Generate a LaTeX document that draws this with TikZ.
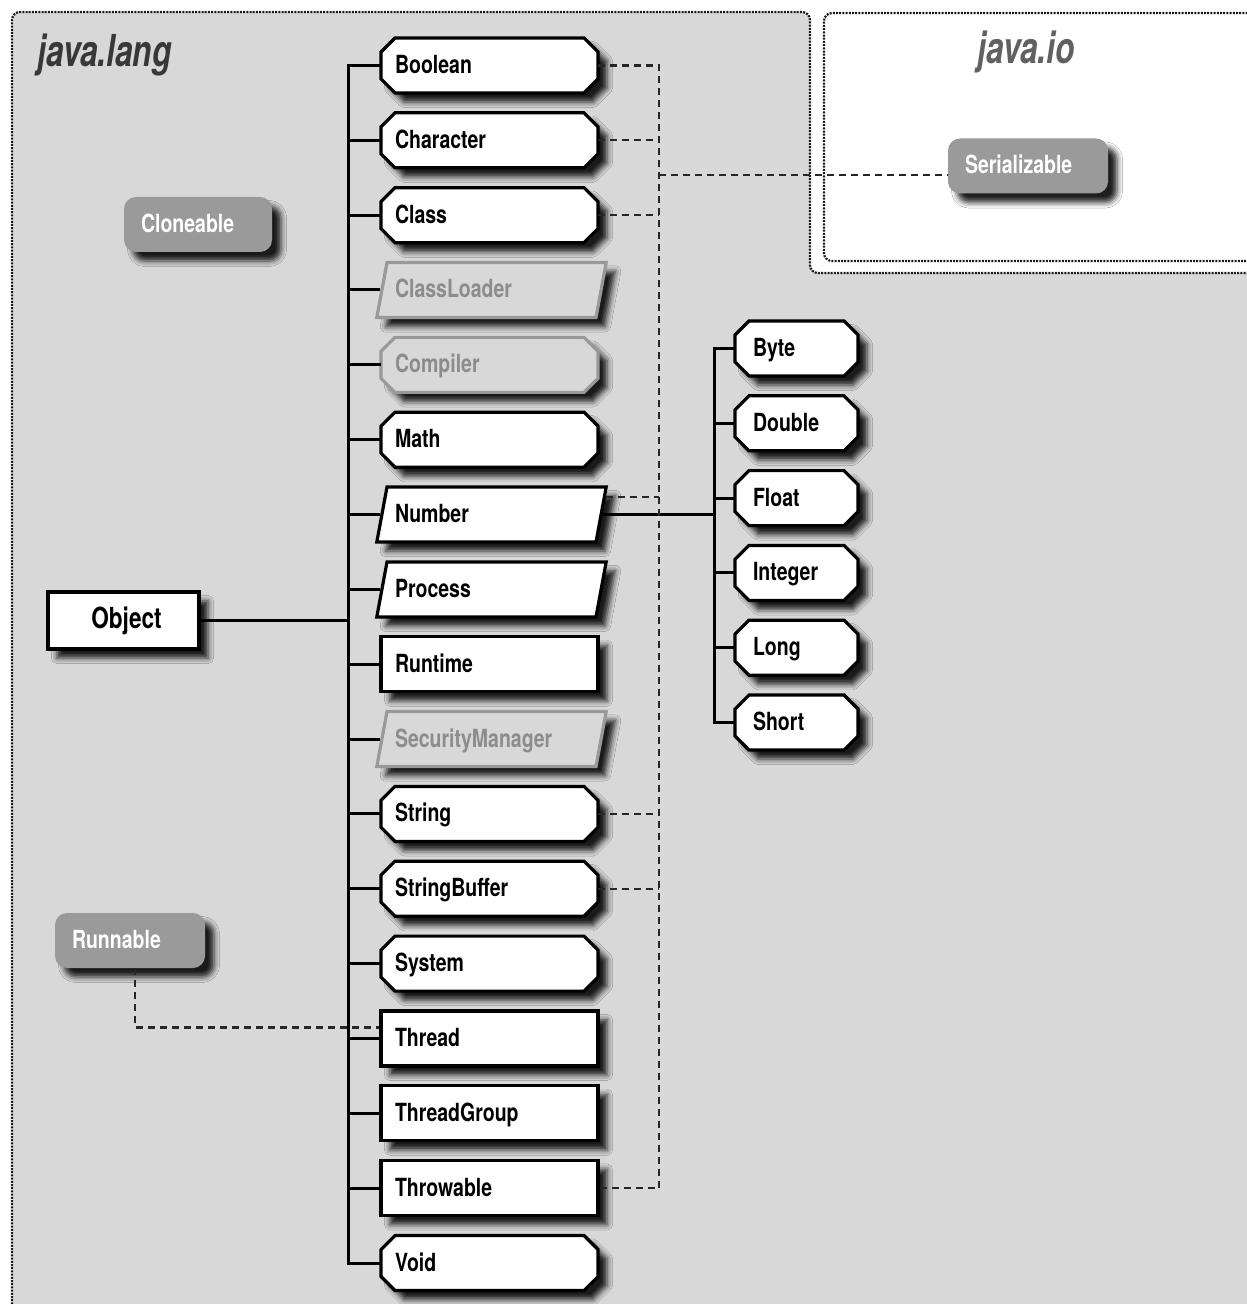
\documentclass[tikz,border=0pt]{standalone}
\usepackage{fontspec}
\setmainfont{TeX Gyre Heros}[FakeStretch=0.78]
\newfontfamily\titlefont{TeX Gyre Heros}[FakeStretch=0.72]
\usetikzlibrary{shapes.geometric,shadows.blur,calc}
\definecolor{bgcol}{HTML}{D8D8D8}
\definecolor{ifcol}{HTML}{9A9A9A}
\makeatletter
\pgfdeclareshape{octagonbox}{%
  \inheritsavedanchors[from=rectangle]%
  \inheritanchorborder[from=rectangle]%
  \inheritanchor[from=rectangle]{center}%
  \inheritanchor[from=rectangle]{north}%
  \inheritanchor[from=rectangle]{south}%
  \inheritanchor[from=rectangle]{east}%
  \inheritanchor[from=rectangle]{west}%
  \inheritanchor[from=rectangle]{north east}%
  \inheritanchor[from=rectangle]{north west}%
  \inheritanchor[from=rectangle]{south east}%
  \inheritanchor[from=rectangle]{south west}%
  \inheritanchor[from=rectangle]{base}%
  \inheritanchor[from=rectangle]{mid}%
  \inheritanchor[from=rectangle]{text}%
  \backgroundpath{%
    \pgf@process{\southwest}\edef\oxa{\the\pgf@x}\edef\oya{\the\pgf@y}%
    \pgf@process{\northeast}\edef\oxb{\the\pgf@x}\edef\oyb{\the\pgf@y}%
    \def\oc{7pt}%
    \pgfpathmoveto{\pgfpoint{\oxa}{\oya+\oc}}%
    \pgfpathlineto{\pgfpoint{\oxa}{\oyb-\oc}}%
    \pgfpathlineto{\pgfpoint{\oxa+\oc}{\oyb}}%
    \pgfpathlineto{\pgfpoint{\oxb-\oc}{\oyb}}%
    \pgfpathlineto{\pgfpoint{\oxb}{\oyb-\oc}}%
    \pgfpathlineto{\pgfpoint{\oxb}{\oya+\oc}}%
    \pgfpathlineto{\pgfpoint{\oxb-\oc}{\oya}}%
    \pgfpathlineto{\pgfpoint{\oxa+\oc}{\oya}}%
    \pgfpathclose
  }%
}
\makeatother
\tikzset{
  shd/.style={blur shadow={shadow xshift=4.5pt, shadow yshift=-4.5pt, shadow blur radius=2.8pt, shadow opacity=88}},
  boxtext/.style={font=\fontsize{12.5pt}{14pt}\selectfont\bfseries, text height=10.5pt, text depth=2.5pt, inner ysep=7.25pt, align=left},
  octbox/.style={boxtext, shape=octagonbox, outer sep=0pt,
     draw=black, line width=1.6pt, fill=white, shd, inner xsep=7pt, text width=94.5pt},
  smallbox/.style={octbox, inner xsep=9pt, text width=43.5pt},
  parbox/.style={boxtext, trapezium, trapezium left angle=79.5, trapezium right angle=100.5,
     draw=black, line width=1.6pt, fill=white, shd, inner xsep=4pt, text width=96.5pt},
  rectbox/.style={boxtext, rectangle, draw=black, line width=1.6pt, fill=white, shd, inner xsep=7pt, text width=94.5pt},
  faded/.style={draw=black!40, fill=bgcol, text=black!45},
  ifbox/.style={boxtext, rectangle, rounded corners=6pt, fill=ifcol, draw=none, text=white, shd, inner xsep=8.5pt},
  objbox/.style={rectangle, draw=black, line width=1.6pt, fill=white, shd, minimum width=75.5pt, minimum height=28.5pt,
     font=\fontsize{14.5pt}{16pt}\selectfont\bfseries},
  conn/.style={draw=black, line width=1.5pt},
  dconn/.style={draw=black!85, line width=1.2pt, dash pattern=on 3.5pt off 2.5pt},
  regb/.style={draw=black!90, line width=1.1pt, dash pattern=on 1pt off 0.6pt, rounded corners=4pt},
  ttl/.style={anchor=base west, inner sep=0pt, font=\titlefont\fontsize{22pt}{24pt}\selectfont\bfseries\itshape}
}
\begin{document}
\begin{tikzpicture}[x=0.5pt,y=-0.5pt]
\useasboundingbox (0,0) rectangle (1246,1304);
\fill[white] (0,0) rectangle (1246,1304);
% java.lang region
\fill[bgcol, rounded corners=4pt] (12,1330) -- (12,12) -- (810,12) -- (810,273) -- (1270,273) -- (1270,1330) -- cycle;
\draw[regb] (12,1330) -- (12,12) -- (810,12) -- (810,273) -- (1270,273);
% java.io region
\fill[white, rounded corners=4pt] (1270,13) -- (824,13) -- (824,261) -- (1270,261) -- cycle;
\draw[regb] (1270,13) -- (824,13) -- (824,261) -- (1270,261);
\node[ttl, text=black!78] (langtitle) at (37,67) {java.lang};
\node[ttl, text=black!62] (iotitle) at (977,64) {java.io};

% interfaces
\node[ifbox, text width=57pt] (cloneable) at (198,224.5) {Cloneable};
\node[ifbox, text width=63pt] (serializable) at (1028,166) {Serializable};
\node[ifbox, text width=58pt] (runnable) at (130,940.5) {Runnable};

% Object
\node[objbox] (object) at (123.5,620.5) {\hspace*{3pt}Object};

% main column
\node[octbox] (boolean) at (489.5,65.5) {Boolean};
\node[octbox] (character) at (489.5,140.3) {Character};
\node[octbox] (class) at (489.5,215.2) {Class};
\node[parbox, faded] (classloader) at (491.5,290) {ClassLoader};
\node[octbox, faded] (compiler) at (489.5,364.9) {Compiler};
\node[octbox] (math) at (489.5,439.7) {Math};
\node[parbox] (number) at (491.5,514.5) {Number};
\node[parbox] (process) at (491.5,589.4) {Process};
\node[rectbox] (runtime) at (489.5,664.2) {Runtime};
\node[parbox, faded] (security) at (491.5,739) {SecurityManager};
\node[octbox] (string) at (489.5,813.9) {String};
\node[octbox] (stringbuffer) at (489.5,888.7) {StringBuffer};
\node[octbox] (system) at (489.5,963.6) {System};
\node[rectbox] (thread) at (489.5,1038.4) {Thread};
\node[rectbox] (threadgroup) at (489.5,1113.3) {ThreadGroup};
\node[rectbox] (throwable) at (489.5,1188) {Throwable};
\node[octbox] (void) at (489.5,1263) {Void};

% number subclasses
\node[smallbox] (byte) at (796.5,348.5) {Byte};
\node[smallbox] (double) at (796.5,423.3) {Double};
\node[smallbox] (float) at (796.5,498.1) {Float};
\node[smallbox] (integer) at (796.5,572.9) {Integer};
\node[smallbox] (long) at (796.5,647.7) {Long};
\node[smallbox] (short) at (796.5,722.5) {Short};

% connectors
\coordinate (tr) at (348,0);
\coordinate (st) at (714,0);
\coordinate (dt) at (659,0);

\draw[conn] (boolean.west) -- (tr |- boolean.west) -- (tr |- void.west) -- (void.west);
\foreach \n in {character,class,classloader,compiler,math,number,process,runtime,security,string,stringbuffer,system,thread,threadgroup,throwable}
  \draw[conn] (tr |- \n.west) -- (\n.west);
\draw[conn] (object.east) -- (tr |- object.east);

\draw[conn] (number.east) -- (st |- number.east);
\draw[conn] (byte.west) -- (st |- byte.west) -- (st |- short.west) -- (short.west);
\foreach \n in {double,float,integer,long}
  \draw[conn] (st |- \n.west) -- (\n.west);

\draw[dconn] (boolean.east) -- (dt |- boolean.east) -- (dt |- throwable.east) -- (throwable.east);
\foreach \n in {character,class,string,stringbuffer}
  \draw[dconn] (\n.east) -- (dt |- \n.east);
\coordinate (nd) at ($(number.right side)!0.6!(number.top right corner)$);
\draw[dconn] (nd) -- (dt |- nd);
\coordinate (sw) at ([yshift=-4.5pt]serializable.west);
\draw[dconn] (dt |- sw) -- (sw);
\coordinate (tw) at ([yshift=5.5pt]thread.west);
\draw[dconn] ([xshift=2.5pt]runnable.south) |- (tw);
\end{tikzpicture}
\end{document}
